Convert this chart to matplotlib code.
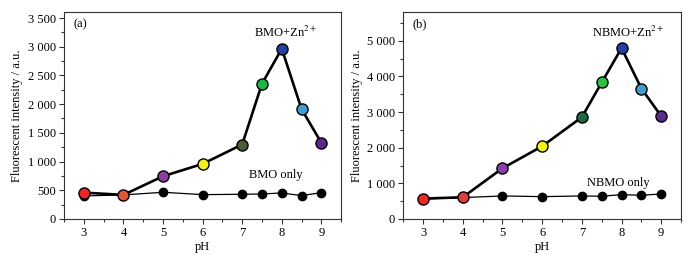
import matplotlib
matplotlib.use("Agg")
import matplotlib.pyplot as plt
from matplotlib.ticker import MultipleLocator, FuncFormatter

plt.rcParams['font.family'] = ['Liberation Serif', 'DejaVu Serif']
plt.rcParams['mathtext.fontset'] = 'stix'

# ---- data ----
ph = [3, 4, 5, 6, 7, 7.5, 8, 8.5, 9]

bmo_zn = [459, 419, 744, 959, 1297, 2355, 2965, 1913, 1326]
bmo_only = [401, 419, 465, 424, 430, 436, 453, 407, 459]

nbmo_zn = [571, 609, 1423, 2041, 2856, 3830, 4794, 3661, 2884]
nbmo_only = [562, 600, 646, 627, 646, 637, 684, 665, 702]

colors_a = ['#f02424', '#e0583c', '#8a3fa0', '#f2f020', '#4f5a3a',
            '#22b444', '#2242a2', '#429ed2', '#5a2a8a']
colors_b = ['#f02828', '#e04040', '#8a40a8', '#f2f020', '#1f6a40',
            '#30c044', '#2242a2', '#429ed2', '#5a2a8a']


def fmt_thousands(v, pos):
    v = int(round(v))
    if v >= 1000:
        return f"{v // 1000} {v % 1000:03d}"
    return str(v)


def draw_panel(ax, zn, only, cols, ymax, ymaj, ymin, tag, lab_zn, lab_only, pos_zn, pos_only):
    ax.plot(ph, only, color='black', lw=0.9, marker='o', ms=6,
            mfc='black', mec='black', zorder=2)
    ax.plot(ph, zn, color='black', lw=1.9, zorder=3)
    for x, y, c in zip(ph, zn, cols):
        ax.plot(x, y, marker='o', ms=8, mfc=c, mec='black', mew=1.0, zorder=4)

    ax.set_xlim(2.5, 9.5)
    ax.set_ylim(0, ymax)
    ax.xaxis.set_major_locator(MultipleLocator(1))
    ax.xaxis.set_minor_locator(MultipleLocator(0.5))
    ax.yaxis.set_major_locator(MultipleLocator(ymaj))
    ax.yaxis.set_minor_locator(MultipleLocator(ymin))
    ax.yaxis.set_major_formatter(FuncFormatter(fmt_thousands))
    ax.tick_params(which='both', direction='out', top=False, right=False,
                   labelsize=9, color='#333333', pad=2.5)
    ax.tick_params(which='major', length=3.5, width=0.8)
    ax.tick_params(which='minor', length=2, width=0.8)
    for s in ax.spines.values():
        s.set_color('#333333')
        s.set_linewidth(0.8)

    ax.set_xlabel('pH', fontsize=9, labelpad=1)
    ax.set_ylabel('Fluorescent intensity / a.u.', fontsize=9, labelpad=3)
    ax.text(0.035, 0.94, tag, transform=ax.transAxes, fontsize=9,
            ha='left', va='center')
    ax.text(pos_zn[0], pos_zn[1], lab_zn, fontsize=9, ha='center', va='center')
    ax.text(pos_only[0], pos_only[1], lab_only, fontsize=9, ha='center', va='center')


fig = plt.figure(figsize=(7, 2.61), dpi=100)
ax1 = fig.add_axes([0.0914, 0.161, 0.396, 0.792])
ax2 = fig.add_axes([0.576, 0.161, 0.397, 0.792])

draw_panel(ax1, bmo_zn, bmo_only, colors_a, 3600, 500, 250, '(a)',
           r'BMO+Zn$^{2+}$', 'BMO only', (8.09, 3246), (7.84, 768))
draw_panel(ax2, nbmo_zn, nbmo_only, colors_b, 5800, 1000, 500, '(b)',
           r'NBMO+Zn$^{2+}$', 'NBMO only', (8.17, 5225), (7.92, 1011))

fig.savefig('out.png', dpi=100)
